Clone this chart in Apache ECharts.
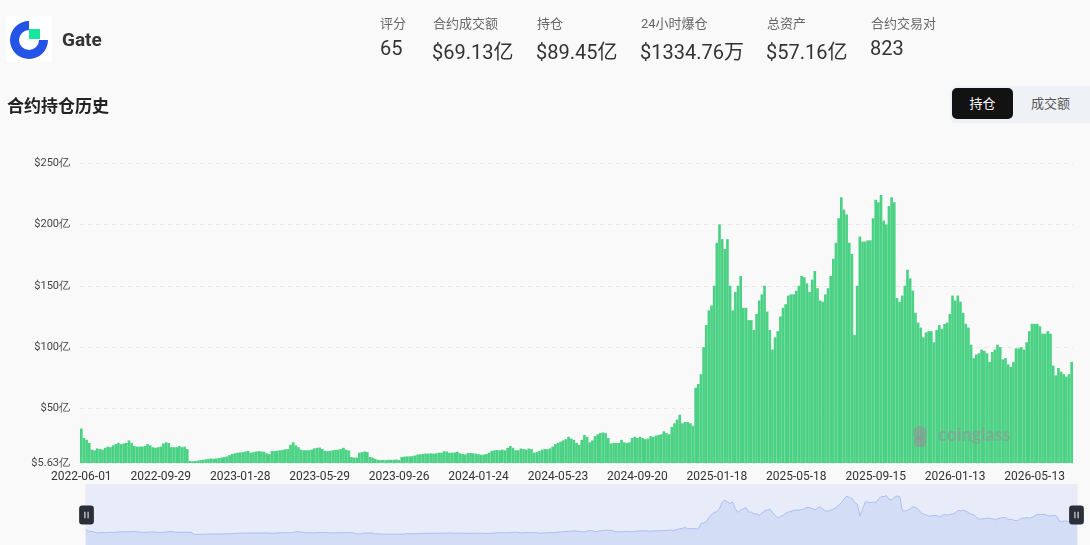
<!DOCTYPE html>
<html>
<head>
<meta charset="utf-8">
<script src="https://cdn.jsdelivr.net/npm/echarts@6/dist/echarts.min.js"></script>
<style>
  html, body { margin: 0; padding: 0; background: #f9f9f9; font-family: Roboto, "Noto Sans CJK SC", sans-serif; }
  #page { position: relative; width: 1090px; height: 545px; overflow: hidden; }
  #chart { position: absolute; left: 0; top: 0; width: 1090px; height: 545px; }
  .abs { position: absolute; white-space: nowrap; }
  .logo { left: 6px; top: 16px; width: 46px; height: 46px; background: #fff; }
  .name { left: 62px; top: 28px; font-size: 19px; font-weight: bold; color: #333; }
  .stat-label { top: 13px; font-size: 13px; color: #666; }
  .stat-value { top: 36px; font-size: 20px; color: #333; }
  .title { left: 7px; top: 92px; font-size: 17px; font-weight: bold; color: #222; }
  .tabs { left: 950px; top: 86px; width: 150px; height: 37px; background: #eef1f5; border-radius: 6px; }
  .tab-on { left: 952px; top: 88px; width: 61px; height: 31px; background: #121212; border-radius: 5px;
            color: #fff; font-size: 13px; line-height: 31px; text-align: center; }
  .tab-off { left: 1031px; top: 88px; line-height: 31px; font-size: 13px; color: #555; }
</style>
</head>
<body>
<div id="page">
  <div id="chart"></div>
  <div class="abs logo">
    <svg width="46" height="46" viewBox="6 16 46 46">
      <path d="M29 21 A19 19 0 1 0 48 40 L39 40 A10 10 0 1 1 29 30 Z" fill="#2354e6"/>
      <rect x="29" y="29" width="11" height="10" fill="#17e6a1"/>
    </svg>
  </div>
  <div class="abs name">Gate</div>
  <div class="abs stat-label" style="left:380px">评分</div>
  <div class="abs stat-value" style="left:380px">65</div>
  <div class="abs stat-label" style="left:433px">合约成交额</div>
  <div class="abs stat-value" style="left:432px">$69.13亿</div>
  <div class="abs stat-label" style="left:537px">持仓</div>
  <div class="abs stat-value" style="left:536px">$89.45亿</div>
  <div class="abs stat-label" style="left:641px">24小时爆仓</div>
  <div class="abs stat-value" style="left:640px">$1334.76万</div>
  <div class="abs stat-label" style="left:767px">总资产</div>
  <div class="abs stat-value" style="left:766px">$57.16亿</div>
  <div class="abs stat-label" style="left:871px">合约交易对</div>
  <div class="abs stat-value" style="left:870px">823</div>
  <div class="abs title">合约持仓历史</div>
  <div class="abs tabs"></div>
  <div class="abs tab-on">持仓</div>
  <div class="abs tab-off">成交额</div>
</div>
<script>
// open interest, 亿 USD, one reading every 4 days from 2022-06-01
const oi2022 = [33.7, 26, 24.5, 22, 16.5, 16, 17.5, 17, 16.5, 18,
  19, 18.5, 20, 21, 22, 21, 21.5, 22, 24, 22,
  19.5, 19, 19, 19, 19.5, 21, 20, 18.5, 18, 18.5,
  19, 21.5, 22.5, 22, 18.5, 18.5, 18.5, 19.5, 18.5, 19,
  17, 7.3, 7.1, 7.3, 7.6, 8, 8.3, 8.6, 9, 9.3,
  9, 9.3, 9.6, 10];
const oi2023 = [10.5, 11, 12, 13, 13.5, 14,
  14.2, 14.5, 15, 15.5, 14, 14.5, 15, 15.3, 15, 14.8,
  13.5, 12.8, 15.5, 15.3, 15.6, 16, 16.3, 16.8, 17, 20.5,
  22.5, 20, 18.5, 16.5, 16, 16, 16, 16.5, 17.5, 18,
  18.2, 17, 15.5, 15.3, 15.6, 16, 16.2, 16.5, 17, 18,
  16.5, 15.8, 10.5, 10, 10, 14, 14.5, 15, 14.5, 10.5,
  10, 9, 8.2, 8, 8.1, 8, 8.2, 8.3, 8.2, 8.5,
  8, 10.5, 10.8, 11, 11, 11.2, 11.8, 12.5, 12.8, 13,
  13.3, 13.3, 13.5, 13.3, 13.5, 14, 14, 15.2, 15, 14,
  14, 14.2, 14.8, 13.5, 13];
const oi2024 = [12.5, 13.8, 13.8, 13.5, 13.2,
  12.8, 12.3, 12.5, 13, 14, 15.5, 16, 16.2, 16, 16.5,
  16, 18, 19.5, 18, 16, 16, 17.4, 17, 16.5, 17.4,
  17, 14, 14.5, 15.5, 16.5, 17, 16.8, 17.5, 19, 21,
  22, 23, 24, 25, 27, 25.5, 24.5, 22, 20.5, 24.5,
  28.5, 27, 22.5, 24, 27.5, 29, 30, 30.5, 30, 26,
  21.5, 22, 22, 22, 24.5, 22.5, 22, 22.5, 26, 27,
  26, 27, 26, 25, 25.5, 27.5, 27, 28, 28.5, 29,
  31.5, 30, 29, 35, 38, 41, 45, 38, 39, 39,
  38, 36, 67, 70, 78, 100, 118];
const oi2025 = [130, 134, 150,
  185, 200, 188, 180, 188, 150, 130, 145, 150, 158,
  132, 132, 122, 122, 114, 127, 138, 143, 150, 129,
  114, 98, 108, 113, 125, 132, 135, 142, 143, 143,
  146, 150, 158, 157, 152, 145, 155, 162, 148, 138,
  137, 143, 148, 158, 172, 185, 205, 222, 212, 208,
  185, 176, 110, 150, 190, 186, 186, 187, 187, 205,
  220, 218, 224, 203, 200, 215, 222, 218, 140, 137,
  142, 150, 163, 156, 146, 128, 120, 116, 108, 112,
  113, 113, 104, 114, 118, 115, 119, 120];
const oi2026 = [127, 142,
  138, 142, 137, 128, 119, 116, 102, 91, 94, 95,
  98, 97, 95, 88, 96, 98, 102, 100, 90, 91,
  86, 84, 88, 99, 99, 100, 98, 104, 113, 119,
  119, 119, 117, 111, 111, 113, 111, 85, 77, 83,
  80, 78, 76, 78, 88];

// dates shown under the x axis, one every 30 bars
const tickDates = ['2022-06-01', '2022-09-29', '2023-01-28', '2023-05-29', '2023-09-26',
  '2024-01-24', '2024-05-23', '2024-09-20', '2025-01-18', '2025-05-18',
  '2025-09-15', '2026-01-13', '2026-05-13'];
const barsPerTick = 30;
const stepDays = 4;
const yMin = 5.63;
const yMax = 250;

const values = [].concat(oi2022, oi2023, oi2024, oi2025, oi2026);
const dates = [];
for (let i = 0; i < values.length; i++) {
  const k = Math.min(Math.floor(i / barsPerTick), tickDates.length - 1);
  const t = Date.parse(tickDates[k] + 'T00:00:00Z') + (i - k * barsPerTick) * stepDays * 86400000;
  dates.push(new Date(t).toISOString().slice(0, 10));
}
console.log('bars:', values.length);

const handlePath = 'path://M3,0 H11 A3,3 0 0 1 14,3 V15 A3,3 0 0 1 11,18 H3 A3,3 0 0 1 0,15 V3 A3,3 0 0 1 3,0 Z M5,6 V12 H6 V6 Z M8,6 V12 H9 V6 Z';

const option = {
  animation: false,
  grid: { left: 80, right: 17, top: 163, bottom: 82 },
  xAxis: {
    type: 'category',
    data: dates,
    axisLine: { show: false },
    axisTick: { show: false },
    axisLabel: { interval: barsPerTick - 1, margin: 8, color: '#333', fontSize: 12, fontFamily: 'Roboto' }
  },
  yAxis: {
    type: 'value',
    min: yMin,
    max: yMax,
    axisLabel: {
      color: '#444', fontSize: 11, margin: 10, fontFamily: 'Roboto',
      formatter: v => '$' + (Math.round(v * 100) / 100) + '亿'
    },
    splitLine: { lineStyle: { color: '#e8e8e8', type: [4, 4] } }
  },
  dataZoom: [{
    type: 'slider',
    start: 0, end: 100,
    left: 83, right: 15, top: 484, height: 62,
    backgroundColor: '#e8ecf8',
    borderColor: 'transparent',
    fillerColor: 'rgba(0,0,0,0)',
    showDetail: false,
    brushSelect: false,
    moveHandleSize: 0,
    handleIcon: handlePath,
    handleSize: 19,
    handleStyle: { color: '#2b2f3a', borderWidth: 0 },
    dataBackground: {
      lineStyle: { color: '#a9bff3', width: 1, opacity: 1 },
      areaStyle: { color: '#d4ddf6', opacity: 1 }
    },
    selectedDataBackground: {
      lineStyle: { color: '#a9bff3', width: 1, opacity: 1 },
      areaStyle: { color: '#d4ddf6', opacity: 1 }
    }
  }],
  graphic: [{
    type: 'group', left: 913, top: 426, silent: true, z: 100,
    children: [
      { type: 'circle', z: 100, shape: { cx: 10, cy: 8, r: 7 }, style: { fill: 'rgba(150,145,150,0.6)' } },
      { type: 'rect', z: 100, shape: { x: 4, y: 12, width: 12, height: 10, r: 3 }, style: { fill: 'rgba(150,145,150,0.6)' } },
      { type: 'text', z: 100, x: 28, y: 1, style: { text: 'coinglass', fontSize: 18, fontWeight: 'bold', fontFamily: 'Lato', fill: 'rgba(150,145,150,0.6)' } }
    ]
  }],
  series: [{
    type: 'bar',
    data: values,
    barCategoryGap: '0%',
    itemStyle: { color: '#4ad184' }
  }]
};

const myChart = echarts.init(document.getElementById('chart'));
myChart.setOption(option);
</script>
</body>
</html>
